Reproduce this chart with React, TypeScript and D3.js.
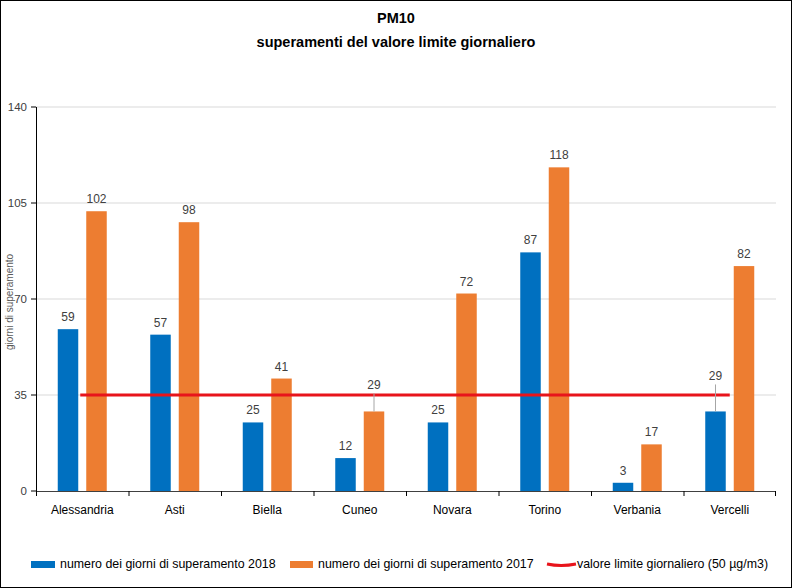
import React from "react";
import * as d3 from "d3";

const categories = ["Alessandria", "Asti", "Biella", "Cuneo", "Novara", "Torino", "Verbania", "Vercelli"];
const values2018 = [59, 57, 25, 12, 25, 87, 3, 29];
const values2017 = [102, 98, 41, 29, 72, 118, 17, 82];
const limitValue = 35;
const yTicks = [0, 35, 70, 105, 140];
const seriesNames = [
  "numero dei giorni di superamento 2018",
  "numero dei giorni di superamento 2017",
  "valore limite giornaliero (50 µg/m3)",
];
// labels that are lifted with a leader line (series index, category index, lift in px)
const leaderLabels: [number, number, number][] = [
  [1, 3, 26],
  [0, 7, 35],
];

const W = 792;
const H = 588;
const M = { left: 36, right: 776, top: 107, bottom: 491 };
const BLUE = "#0070C0";
const ORANGE = "#ED7D31";
const RED = "#E8141B";
const FONT = "'Liberation Sans', Arial, sans-serif";

export default function App() {
  const x = d3.scaleBand<string>().domain(categories).range([M.left, M.right]).paddingInner(0).paddingOuter(0);
  const y = d3.scaleLinear().domain([0, 140]).range([M.bottom, M.top]);
  const bw = x.bandwidth();
  const barW = 20.5;
  const gap = 8;
  const series = [values2018, values2017];
  const colors = [BLUE, ORANGE];
  const barX = (si: number, ci: number) => (x(categories[ci]) as number) + (si === 0 ? bw / 2 - gap / 2 - barW : bw / 2 + gap / 2);
  const xc0 = (x(categories[0]) as number) + bw / 2 - 2;
  const xc1 = (x(categories[categories.length - 1]) as number) + bw / 2;

  return (
    <div style={{ position: "fixed", left: 0, top: 0 }}>
      <svg width={W} height={H} style={{ display: "block", background: "#fff" }}>
        <rect x={0.5} y={0.5} width={W - 1} height={H - 1} fill="#fff" stroke="#000" strokeWidth={1} />
        <text x={396} y={23} textAnchor="middle" fontFamily={FONT} fontWeight="bold" fontSize={14.5} fill="#000">PM10</text>
        <text x={396} y={47} textAnchor="middle" fontFamily={FONT} fontWeight="bold" fontSize={14.5} fill="#000">superamenti del valore limite giornaliero</text>

        {yTicks.filter((t) => t > 0).map((t) => (
          <line key={"g" + t} x1={M.left} x2={M.right} y1={y(t)} y2={y(t)} stroke="#d9d9d9" strokeWidth={1} />
        ))}

        {series.map((vals, si) =>
          vals.map((v, ci) => (
            <rect key={`b${si}-${ci}`} x={barX(si, ci)} y={y(v)} width={barW} height={y(0) - y(v)} fill={colors[si]} />
          ))
        )}

        <line x1={xc0} x2={xc1} y1={y(limitValue)} y2={y(limitValue)} stroke={RED} strokeWidth={3} />

        {series.map((vals, si) =>
          vals.map((v, ci) => {
            const cx = barX(si, ci) + barW / 2;
            const lead = leaderLabels.find((l) => l[0] === si && l[1] === ci);
            const lift = lead ? lead[2] : 12;
            const ly = y(v) - lift;
            return (
              <g key={`l${si}-${ci}`}>
                {lead && <line x1={cx} x2={cx} y1={ly + 8} y2={y(v)} stroke="#a6a6a6" strokeWidth={1} />}
                <text x={cx} y={ly + 4} textAnchor="middle" fontFamily={FONT} fontSize={12} fill="#404040">{v}</text>
              </g>
            );
          })
        )}

        {/* y axis */}
        <line x1={M.left + 0.5} x2={M.left + 0.5} y1={M.top} y2={M.bottom} stroke="#000" strokeWidth={1} />
        {yTicks.map((t) => (
          <g key={"yt" + t}>
            <line x1={M.left - 5} x2={M.left} y1={y(t)} y2={y(t)} stroke="#000" />
            <text x={M.left - 9} y={y(t) + 4} textAnchor="end" fontFamily={FONT} fontSize={11.5} fill="#404040">{t}</text>
          </g>
        ))}
        <text transform={`translate(13,302) rotate(-90)`} textAnchor="middle" fontFamily={FONT} fontSize={10} fill="#595959">giorni di superamento</text>

        {/* x axis */}
        <line x1={M.left} x2={M.right} y1={M.bottom + 0.5} y2={M.bottom + 0.5} stroke="#404040" strokeWidth={1} />
        {categories.map((c, i) => (
          <line key={"xt" + i} x1={(x(c) as number) + 0.5} x2={(x(c) as number) + 0.5} y1={M.bottom} y2={M.bottom + 5} stroke="#000" />
        ))}
        <line x1={M.right - 0.5} x2={M.right - 0.5} y1={M.bottom} y2={M.bottom + 5} stroke="#000" />
        {categories.map((c) => (
          <text key={"xl" + c} x={(x(c) as number) + bw / 2} y={514} textAnchor="middle" fontFamily={FONT} fontSize={12} fill="#000">{c}</text>
        ))}

        {/* legend */}
        <rect x={31} y={561} width={24} height={7} fill={BLUE} />
        <text x={60} y={568} fontFamily={FONT} fontSize={12.4} fill="#000">{seriesNames[0]}</text>
        <rect x={290} y={561} width={23} height={7} fill={ORANGE} />
        <text x={318} y={568} fontFamily={FONT} fontSize={12.4} fill="#000">{seriesNames[1]}</text>
        <path d="M547,564 Q561,567 576,564" fill="none" stroke={RED} strokeWidth={3} />
        <text x={577} y={568} fontFamily={FONT} fontSize={12.4} fill="#000">{seriesNames[2]}</text>
      </svg>
    </div>
  );
}
